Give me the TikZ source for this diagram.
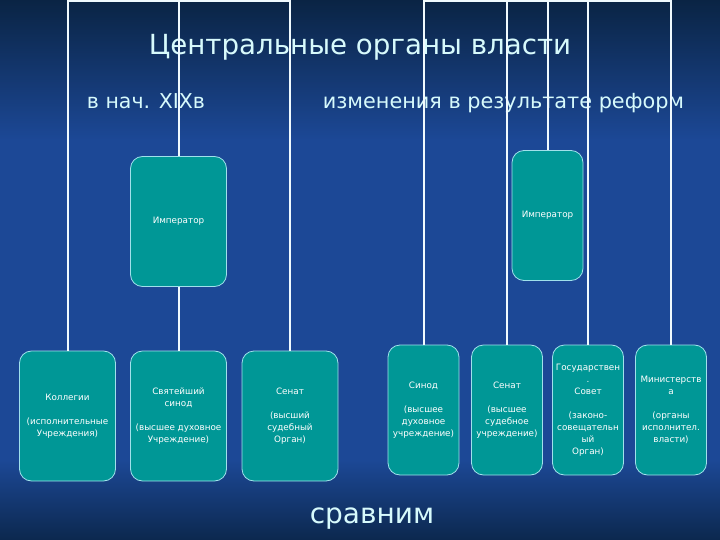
\documentclass[tikz,border=0pt]{standalone}
\usepackage{fontspec}
\setmainfont{DejaVu Sans}
\definecolor{boxteal}{RGB}{0,151,150}
\definecolor{boxedge}{RGB}{160,225,235}
\definecolor{titlecol}{RGB}{215,250,252}
\definecolor{bgtop}{RGB}{10,36,68}
\definecolor{bgmid}{RGB}{28,72,150}
\definecolor{bgbot}{RGB}{12,40,78}
\begin{document}
\begin{tikzpicture}[
    x=1pt, y=-1pt,
    box/.style={rectangle,rounded corners=12pt,draw=boxedge,line width=0.8pt,fill=boxteal,text=white,align=center,inner sep=2pt,font=\fontsize{8.8}{12}\selectfont},
    widebox/.style={box,minimum width=96pt,minimum height=130pt},
    slimbox/.style={box,minimum width=71pt,minimum height=130pt},
    link/.style={draw=white!94!cyan,line width=2pt},
    heading/.style={text=titlecol,anchor=base}
]
    % Background
    \useasboundingbox (0,0) rectangle (720,540);
    \shade[top color=bgtop,bottom color=bgmid] (0,0) rectangle (720,140);
    \fill[bgmid] (0,139) rectangle (720,461);
    \shade[top color=bgmid,bottom color=bgbot] (0,460) rectangle (720,540);

    % Titles
    \node[heading,font=\fontsize{27.7}{32}\selectfont] (title) at (360,55) {Центральные органы власти};
    \node[heading,font=\fontsize{20.5}{24}\selectfont] (before) at (146,109) {в нач. XIXв};
    \node[heading,font=\fontsize{20.8}{24}\selectfont] (after) at (503.5,109) {изменения в результате реформ};
    \node[heading,font=\fontsize{28}{32}\selectfont] (compare) at (372,523) {сравним};

    % Left chart
    \node[widebox] (imp1) at (178.5,221.5) {Император};
    \node[widebox] (kol) at (67.5,416) {Коллегии\\[12pt](исполнительные\\Учреждения)};
    \node[widebox] (syn1) at (178.5,416) {Святейший\\синод\\[12pt](высшее духовное\\Учреждение)};
    \node[widebox] (sen1) at (290,416) {Сенат\\[12pt](высший\\судебный\\Орган)};
    \coordinate (lefttop) at (290,1);

    % Right chart
    \node[slimbox] (imp2) at (547.5,215.5) {Император};
    \node[slimbox] (syn2) at (423.5,410) {Синод\\[12pt](высшее\\духовное\\учреждение)};
    \node[slimbox] (sen2) at (507,410) {Сенат\\[12pt](высшее\\судебное\\учреждение)};
    \node[slimbox] (gos) at (588,410) {Государствен\\.\\Совет\\[12pt](законо-\\совещательн\\ый\\Орган)};
    \node[slimbox] (min) at (671,410) {Министерств\\а\\[12pt](органы\\исполнител.\\власти)};
    \coordinate (righttop) at (671,1);

    % Connections
    \draw[link] (kol.north) |- (lefttop) -- (sen1.north);
    \draw[link] (imp1.north) -- (imp1.north |- lefttop);
    \draw[link] (imp1.south) -- (syn1.north);
    \draw[link] (syn2.north) |- (righttop) -- (min.north);
    \draw[link] (sen2.north) -- (sen2.north |- righttop);
    \draw[link] (imp2.north) -- (imp2.north |- righttop);
    \draw[link] (gos.north) -- (gos.north |- righttop);
\end{tikzpicture}
\end{document}
